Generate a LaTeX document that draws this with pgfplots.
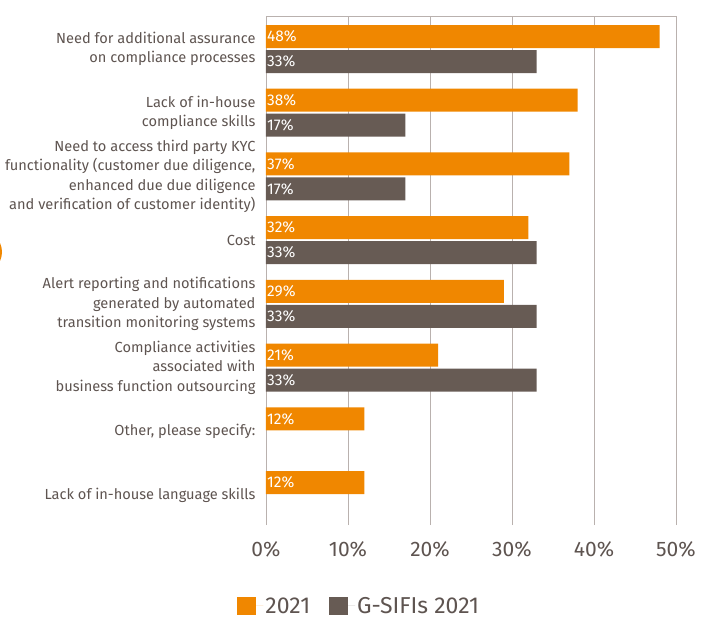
\documentclass[border=0pt]{standalone}
\usepackage{fontspec}
\setmainfont{Fira Sans}
\usepackage{pgfplots}
\usepackage{pgfplotstable}
\pgfplotsset{compat=1.18}

\definecolor{trorange}{HTML}{F08700}
\definecolor{trgrey}{HTML}{675B54}
\definecolor{txtgrey}{HTML}{5E5450}
\definecolor{gridgrey}{HTML}{B9B1AE}

% y = 7 is the top category
\pgfplotstableread{
y  v
7  48
6  38
5  37
4  32
3  29
2  21
1  12
0  12
}\allyear

\pgfplotstableread{
y  v
7  33
6  17
5  17
4  33
3  33
2  33
}\gsifi

\begin{document}
\begin{tikzpicture}
\useasboundingbox (0,0) rectangle (702pt,-619pt);
\fill[trorange] (-19pt,-252pt) circle (21pt);
\fill[white] (-19pt,-252pt) circle (19pt);
\begin{axis}[
    name=ax,
    at={(266pt,-16pt)}, anchor=north west,
    scale only axis,
    width=410pt, height=509pt,
    xmin=0, xmax=50,
    ymin=-0.471, ymax=7.518,
    xtick={0,10,...,50},
    xticklabel={\pgfmathprintnumber{\tick}\%},
    ytick={0,...,7},
    yticklabels={
        {Lack of in-house language skills},
        {Other, please specify:},
        {Compliance activities\\associated with\\business function outsourcing},
        {Alert reporting and notifications\\generated by automated\\transition monitoring systems},
        {Cost},
        {Need to access third party KYC\\functionality (customer due diligence,\\enhanced due due diligence\\and verification of customer identity)},
        {Lack of in-house\\compliance skills},
        {Need for additional assurance\\on compliance processes}
    },
    /pgf/number format/assume math mode=true,
    axis line style={draw=none},
    major tick length=0pt,
    xmajorgrids,
    grid style={gridgrey, line width=0.8pt},
    xticklabel style={font=\fontsize{21}{24}\selectfont, text=txtgrey, yshift=-13pt},
    yticklabel style={font=\fontsize{14.6}{19.5}\selectfont, text=txtgrey, align=right, xshift=-7pt},
    xbar, bar width=23pt,
    legend style={at={(axis description cs:-0.07,-0.159)}, anchor=west, draw=none,
        legend columns=2, inner sep=0pt,
        nodes={font=\fontsize{23}{26}\selectfont, text=txtgrey, inner ysep=0pt},
        /tikz/every even column/.append style={column sep=17pt}},
    legend image code/.code={\fill[#1] (0pt,-9pt) rectangle (19pt,9pt);
        \path (0pt,0pt) -- (26pt,0pt);},
    legend cell align=left,
]
\addplot[fill=trorange, draw=none, bar shift=12.5pt] table[x=v, y=y] {\allyear};
\addlegendentry{2021}
\addplot[fill=trgrey, draw=none, bar shift=-12.5pt] table[x=v, y=y] {\gsifi};
\addlegendentry{G-SIFIs 2021}
% value labels at the start of each bar
\addplot[draw=none, fill=none, bar shift=12.5pt, forget plot,
    nodes near coords={\pgfmathprintnumber{\pgfplotspointmeta}\%}, point meta=explicit,
    every node near coord/.append style={anchor=west, text=white, inner sep=1pt,
        font=\fontsize{15.5}{17}\selectfont}]
    table[x expr=0, y=y, meta=v] {\allyear};
\addplot[draw=none, fill=none, bar shift=-12.5pt, forget plot,
    nodes near coords={\pgfmathprintnumber{\pgfplotspointmeta}\%}, point meta=explicit,
    every node near coord/.append style={anchor=west, text=white, inner sep=1pt,
        font=\fontsize{15.5}{17}\selectfont}]
    table[x expr=0, y=y, meta=v] {\gsifi};
\end{axis}
\draw[gridgrey, line width=0.8pt] (ax.north west) -- (ax.north east);
\end{tikzpicture}
\end{document}
